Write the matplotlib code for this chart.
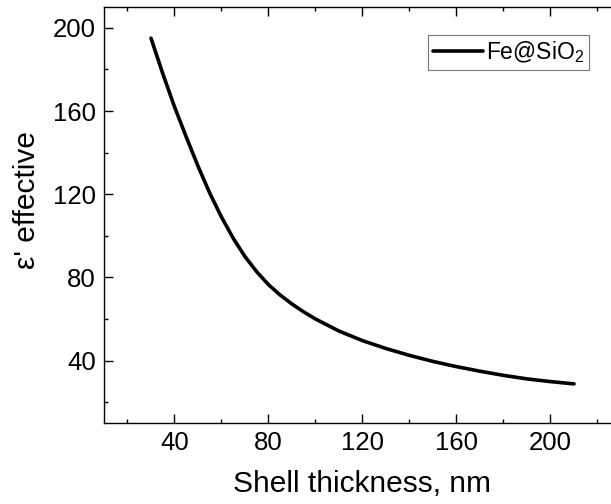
import matplotlib
matplotlib.use("Agg")
import matplotlib.pyplot as plt
from matplotlib.ticker import MultipleLocator

plt.rcParams['font.family'] = ['Liberation Sans', 'DejaVu Sans']
plt.rcParams['mathtext.fontset'] = 'custom'
plt.rcParams['mathtext.rm'] = 'Liberation Sans'

# values
thickness = [30, 35, 40, 45, 50, 55, 60, 65, 70, 75, 80, 85, 90, 95, 100,
             110, 120, 130, 140, 150, 160, 170, 180, 190, 200, 210]
eps_eff = [195, 178, 162, 147.5, 133.5, 120.5, 109, 98.8, 90, 82.7, 76.5,
           71.5, 67.2, 63.4, 60, 54.2, 49.6, 45.8, 42.5, 39.6, 37.1, 34.9,
           32.9, 31.2, 29.9, 28.8]
series_name = 'Fe@SiO$\\mathregular{_2}$'

fig = plt.figure(figsize=(6.11, 5.04), dpi=100)
ax = fig.add_axes([104 / 611, 1 - 423 / 504, 517 / 611, 416 / 504])

ax.plot(thickness, eps_eff, color='black', lw=2.6, solid_capstyle='round',
        solid_joinstyle='round', label=series_name)

ax.set_xlim(10, 230)
ax.set_ylim(10, 210)
ax.xaxis.set_major_locator(MultipleLocator(40))
ax.xaxis.set_minor_locator(MultipleLocator(20))
ax.yaxis.set_major_locator(MultipleLocator(40))
ax.yaxis.set_minor_locator(MultipleLocator(20))
ax.set_xticks([40, 80, 120, 160, 200])

ax.tick_params(which='both', direction='in', top=True, right=False, width=1.0,
               labelsize=18.5)
ax.tick_params(which='major', length=6.5)
ax.tick_params(which='minor', length=3.2)
ax.tick_params(axis='x', pad=6)
ax.tick_params(axis='y', pad=6)
for s in ax.spines.values():
    s.set_linewidth(1.0)
ax.spines['right'].set_visible(False)

ax.set_xlabel('Shell thickness, nm', fontsize=21.5)
ax.set_ylabel("\u03b5' effective", fontsize=21.5)
ax.xaxis.set_label_coords(0.5, -0.112)
ax.yaxis.set_label_coords(-0.122, 0.536)

leg = ax.legend(loc='upper left', bbox_to_anchor=((428 - 104) / 517, 1 - (35 - 7) / 416),
                fontsize=16.5, frameon=True, fancybox=False, handlelength=2.2,
                borderpad=0.2, borderaxespad=0, handletextpad=0.15)
leg.get_frame().set_edgecolor('#555555')
leg.get_frame().set_linewidth(0.8)

fig.savefig('out.png', dpi=100)
